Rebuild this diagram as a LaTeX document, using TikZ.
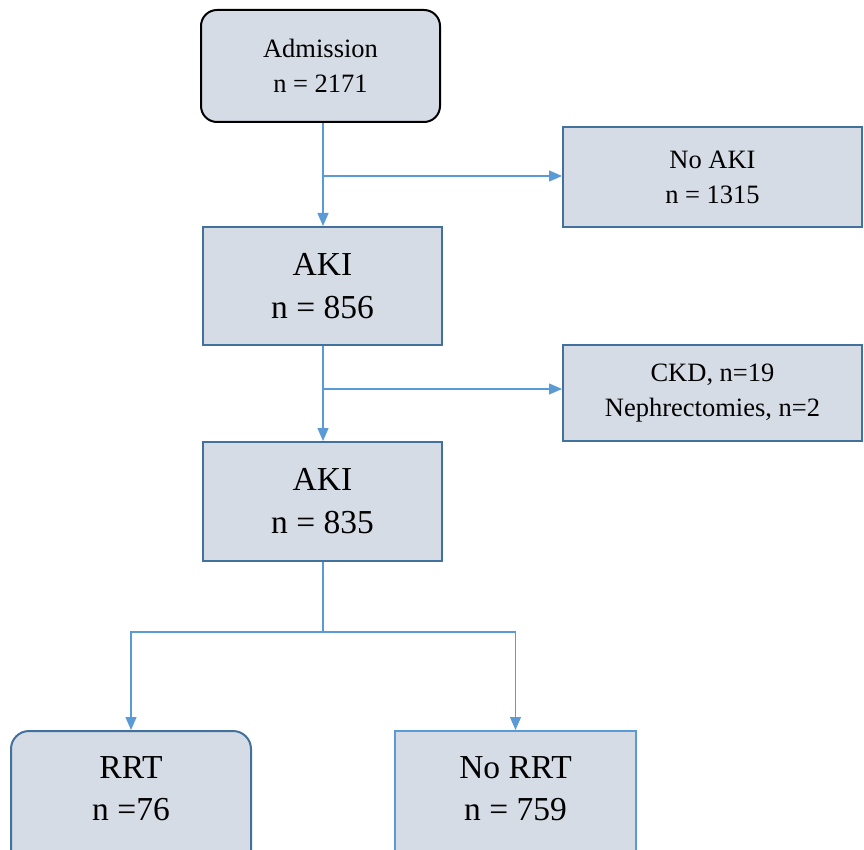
\documentclass[tikz,border=0pt]{standalone}
\usepackage{fontspec}
\setmainfont{Liberation Serif}
\usetikzlibrary{arrows.meta}
\definecolor{boxfill}{HTML}{D6DCE5}
\definecolor{boxline}{HTML}{41719C}
\definecolor{lightline}{HTML}{5B9BD5}
\definecolor{conn}{HTML}{5B9BD5}
\tikzset{
  box/.style={draw=boxline, line width=2pt, fill=boxfill, align=center, inner sep=0pt, font=\fontsize{26.5}{35}\selectfont},
  bigbox/.style={box, font=\fontsize{33.5}{43}\selectfont},
  bigtext/.style={align=center, inner sep=0pt, font=\fontsize{33.5}{42}\selectfont},
  conn/.style={draw=conn, line width=1.3pt},
  arr/.style={conn, -{Triangle[length=13pt,width=11pt]}}
}
\begin{document}
\begin{tikzpicture}[x=1pt,y=-1pt]
\useasboundingbox (0,0) rectangle (864,850);
\clip (0,0) rectangle (864,850);
\node[box, draw=black, rounded corners=16pt, minimum width=239pt, minimum height=112pt] (adm) at (320.5,66) {Admission\\n = 2171};
\node[box, minimum width=299pt, minimum height=100pt] (noaki) at (712.5,177) {No AKI\\n = 1315};
\node[bigbox, minimum width=239pt, minimum height=118pt] (aki1) at (322.5,286) {AKI\\n = 856};
\node[box, minimum width=299pt, minimum height=96pt] (ckd) at (712.5,393) {CKD, n=19\\Nephrectomies, n=2};
\node[bigbox, minimum width=239pt, minimum height=119pt] (aki2) at (322.5,501.5) {AKI\\n = 835};
\node[bigbox, rounded corners=18pt, minimum width=240pt, minimum height=140pt] (rrt) at (131,801) {};
\node[bigbox, draw=lightline, minimum width=241pt, minimum height=140pt] (norrt) at (515.5,801) {};
\node[bigtext] (rrtt) at (131,789) {RRT\\n =76};
\node[bigtext] (norrtt) at (515.5,789) {No RRT\\n = 759};
\coordinate (b1) at (323,176);
\coordinate (b2) at (323,389);
\coordinate (b3) at (323,632);
\draw[arr] (adm.south -| b1) -- (aki1.north -| b1);
\draw[arr] (b1) -- (b1 -| noaki.west);
\draw[arr] (aki1.south -| b2) -- (aki2.north -| b2);
\draw[arr] (b2) -- (b2 -| ckd.west);
\draw[conn] (aki2.south -| b3) -- (b3);
\draw[arr] (b3) -| (rrt.north);
\draw[arr] (b3) -| (norrt.north);
\end{tikzpicture}
\end{document}
